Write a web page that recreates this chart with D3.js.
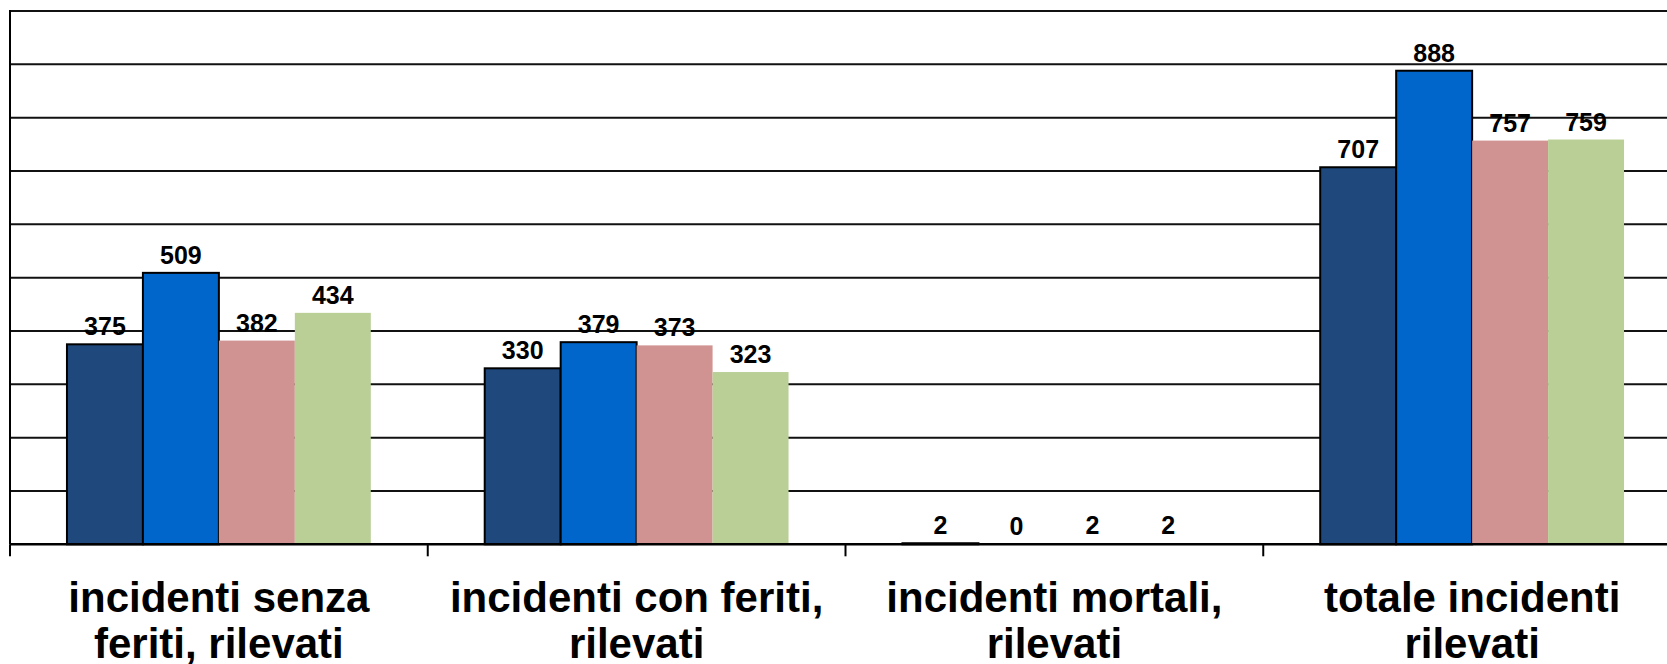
<!DOCTYPE html>
<html>
<head>
<meta charset="utf-8">
<script src="https://cdn.jsdelivr.net/npm/d3@7"></script>
<style>
  html, body { margin: 0; padding: 0; background: #fff; overflow: hidden; }
  svg { display: block; }
  text { font-family: "Liberation Sans", Arial, sans-serif; font-weight: bold; }
</style>
</head>
<body>
<svg id="chart" width="1667" height="664"></svg>
<script>
// ---- data ----
const categories = [
  ["incidenti senza", "feriti, rilevati"],
  ["incidenti con feriti,", "rilevati"],
  ["incidenti mortali,", "rilevati"],
  ["totale incidenti", "rilevati"]
];
const seriesNames = ["serie 1", "serie 2", "serie 3", "serie 4"];
const serie1 = [375, 330, 2, 707];
const serie2 = [509, 379, 0, 888];
const serie3 = [382, 373, 2, 757];
const serie4 = [434, 323, 2, 759];
const yTicks = [0, 100, 200, 300, 400, 500, 600, 700, 800, 900, 1000];

(function () {
const seriesValues = [serie1, serie2, serie3, serie4];
const colors = ["#1F497D", "#0066CC", "#D19392", "#B9CF96"];
const strokes = ["#000", "#000", "none", "none"];

const svg = d3.select("#chart");
const mLeft = 10, mTop = 11, mBottom = 544.3;
const plotRight = mLeft + 4 * 417.75;

const x0 = d3.scaleBand()
  .domain(categories.map((d, i) => i))
  .range([mLeft, plotRight])
  .paddingInner(0).paddingOuter(0);

const x1 = d3.scaleBand()
  .domain(seriesNames.map((d, i) => i))
  .range([0, x0.bandwidth()])
  .paddingInner(0).paddingOuter(0.75);

const y = d3.scaleLinear().domain([0, 1000]).range([mBottom, mTop]);

// gridlines
svg.append("g").selectAll("line")
  .data(yTicks.filter(t => t > 0))
  .join("line")
  .attr("x1", mLeft).attr("x2", plotRight)
  .attr("y1", d => y(d)).attr("y2", d => y(d))
  .attr("stroke", "#111").attr("stroke-width", 2);

// bars
const groups = svg.append("g").selectAll("g")
  .data(categories.map((c, i) => i))
  .join("g")
  .attr("transform", i => `translate(${x0(i)},0)`);

groups.selectAll("rect")
  .data(i => seriesValues.map((s, k) => ({k, v: s[i]})).filter(d => d.v > 0))
  .join("rect")
  .attr("x", d => x1(d.k))
  .attr("width", x1.bandwidth())
  .attr("y", d => y(d.v))
  .attr("height", d => y(0) - y(d.v))
  .attr("fill", d => colors[d.k])
  .attr("stroke", d => strokes[d.k])
  .attr("stroke-width", 2);

// value labels
groups.selectAll("text")
  .data(i => seriesValues.map((s, k) => ({k, v: s[i]})))
  .join("text")
  .attr("x", d => x1(d.k) + x1.bandwidth() / 2)
  .attr("y", d => y(d.v) - 9)
  .attr("text-anchor", "middle")
  .attr("font-size", 25)
  .attr("fill", "#000")
  .text(d => d.v);

// x axis baseline
svg.append("line")
  .attr("x1", mLeft).attr("x2", plotRight)
  .attr("y1", y(0)).attr("y2", y(0))
  .attr("stroke", "#000").attr("stroke-width", 2.5);

// y axis line
svg.append("line")
  .attr("x1", mLeft).attr("x2", mLeft)
  .attr("y1", mTop - 1).attr("y2", y(0))
  .attr("stroke", "#000").attr("stroke-width", 2);

// category ticks (boundaries)
const bounds = categories.map((c, i) => x0(i)).concat([plotRight]);
svg.append("g").selectAll("line")
  .data(bounds)
  .join("line")
  .attr("x1", d => d).attr("x2", d => d)
  .attr("y1", y(0)).attr("y2", y(0) + 12)
  .attr("stroke", "#000").attr("stroke-width", 2);

// category labels
const labels = svg.append("g").selectAll("text")
  .data(categories.map((c, i) => ({c, i})))
  .join("text")
  .attr("text-anchor", "middle")
  .attr("font-size", 42)
  .attr("fill", "#000");
labels.selectAll("tspan")
  .data(d => d.c.map(line => ({line, i: d.i})))
  .join("tspan")
  .attr("x", d => x0(d.i) + x0.bandwidth() / 2)
  .attr("y", (d, j) => 612 + j * 46)
  .text(d => d.line);
})();
</script>
</body>
</html>
